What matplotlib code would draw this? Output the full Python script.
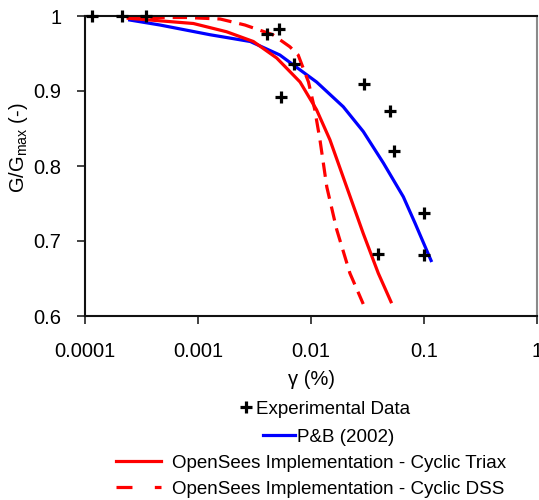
import matplotlib
matplotlib.use("Agg")
import matplotlib.pyplot as plt
from matplotlib.lines import Line2D

plt.rcParams['font.family'] = ['Liberation Sans', 'DejaVu Sans']

# Experimental modulus reduction data
exp_strain = [1.16e-4, 2.13e-4, 3.47e-4, 4.08e-3, 5.24e-3, 7.11e-3, 5.43e-3,
              0.0296, 0.050, 0.0546, 0.1007, 0.0389, 0.1007]
exp_ratio = [1.0, 1.0, 1.0, 0.976, 0.983, 0.936, 0.892,
             0.909, 0.873, 0.820, 0.738, 0.682, 0.681]

# P&B (2002) curve
pb_strain = [2.41e-4, 4.6e-4, 1.28e-3, 2.9e-3, 5.3e-3, 0.0112, 0.0193,
             0.029, 0.0437, 0.0656, 0.0832, 0.117]
pb_ratio = [0.995, 0.988, 0.975, 0.966, 0.948, 0.912, 0.879,
            0.846, 0.804, 0.759, 0.724, 0.672]

# OpenSees - cyclic triaxial
tx_strain = [2.41e-4, 9.1e-4, 1.79e-3, 3.09e-3, 4.97e-3, 8.0e-3, 0.0112,
             0.0147, 0.0207, 0.029, 0.0394, 0.051]
tx_ratio = [0.997, 0.990, 0.979, 0.966, 0.944, 0.912, 0.875,
            0.835, 0.772, 0.710, 0.657, 0.619]

# OpenSees - cyclic DSS
dss_strain = [2.4e-4, 7.9e-4, 1.57e-3, 2.6e-3, 4.6e-3, 6.5e-3, 7.7e-3,
              9.5e-3, 0.0108, 0.012, 0.0138, 0.0169, 0.0221, 0.029]
dss_ratio = [0.998, 0.998, 0.996, 0.988, 0.975, 0.959, 0.948,
             0.912, 0.875, 0.835, 0.772, 0.715, 0.657, 0.616]

x_ticks = [0.0001, 0.001, 0.01, 0.1, 1]
x_tick_labels = ['0.0001', '0.001', '0.01', '0.1', '1']
y_ticks = [0.6, 0.7, 0.8, 0.9, 1.0]
y_tick_labels = ['0.6', '0.7', '0.8', '0.9', '1']

W, H = 539, 500
fig = plt.figure(figsize=(W / 100, H / 100), dpi=100)
ax = fig.add_axes([85 / W, 1 - 316 / H, (537 - 85) / W, (316 - 16) / H])

ax.plot(pb_strain, pb_ratio, color='#0000FF', lw=2.3, solid_capstyle='butt')
ax.plot(tx_strain, tx_ratio, color='#FF0000', lw=2.3)
ax.plot(dss_strain, dss_ratio, color='#FF0000', lw=2.3, dashes=(4.5, 2.5))
ax.plot(exp_strain, exp_ratio, linestyle='none', marker='+', color='black',
        markersize=9, markeredgewidth=2.3, clip_on=False, zorder=5)

ax.set_xscale('log')
ax.set_xlim(1e-4, 1)
ax.set_ylim(0.6, 1.0)
ax.set_xticks(x_ticks)
ax.set_xticklabels(x_tick_labels)
ax.set_xticks([], minor=True)
ax.set_yticks(y_ticks)
ax.set_yticklabels(y_tick_labels)
ax.tick_params(axis='both', direction='out', length=6, width=1.2,
               labelsize=14.5, colors='#222222', labelcolor='black')
ax.tick_params(axis='x', pad=13)
ax.tick_params(axis='y', pad=11)

for side in ['left', 'bottom', 'top']:
    ax.spines[side].set_color('#111111')
    ax.spines[side].set_linewidth(1.5)
ax.spines['right'].set_color('#8a8a8a')
ax.spines['right'].set_linewidth(1.5)

ax.set_xlabel('γ (%)', fontsize=14.5, labelpad=6)
fig.text(19 / W, 1 - 148 / H, 'G/G$_{\\mathregular{max}}$ (-)', rotation=90,
         ha='center', va='center', fontsize=14.5)

fs = 13.5
leg_kw = dict(frameon=False, borderpad=0, borderaxespad=0, fontsize=fs,
              loc='center left')
fig.legend([Line2D([], [], linestyle='none', marker='+', color='black',
                   markersize=9, markeredgewidth=2.3)],
           ['Experimental Data'], bbox_to_anchor=(238 / W, 1 - 409 / H),
           handlelength=0.8, handletextpad=0.15, **leg_kw)
fig.legend([Line2D([], [], color='#0000FF', lw=2.3)], ['P&B (2002)'],
           bbox_to_anchor=(263 / W, 1 - 437 / H),
           handlelength=1.7, handletextpad=0.1, **leg_kw)
fig.legend([Line2D([], [], color='#FF0000', lw=2.3)],
           ['OpenSees Implementation - Cyclic Triax'],
           bbox_to_anchor=(116 / W, 1 - 463 / H),
           handlelength=2.4, handletextpad=0.6, **leg_kw)
fig.legend([Line2D([], [], color='#FF0000', lw=2.3, dashes=(5, 7))],
           ['OpenSees Implementation - Cyclic DSS'],
           bbox_to_anchor=(116 / W, 1 - 489 / H),
           handlelength=2.4, handletextpad=0.6, **leg_kw)

fig.savefig('out.png', dpi=100)
